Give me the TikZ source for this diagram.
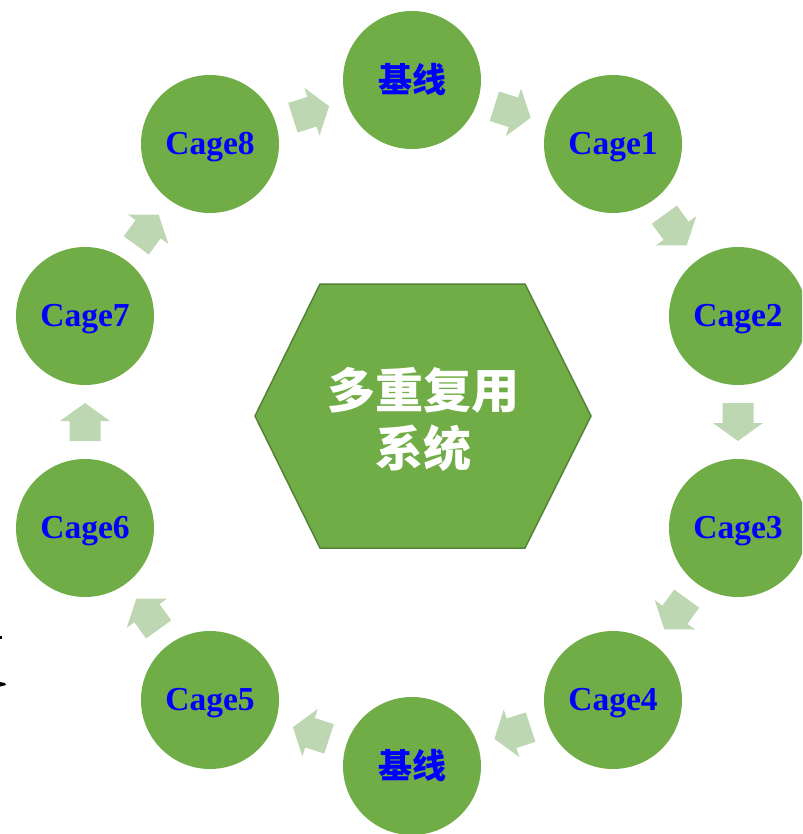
\documentclass[tikz,border=0pt]{standalone}
\usepackage{fontspec}
\setmainfont{Liberation Serif}
\newfontfamily\cjk{Noto Sans CJK SC}
\usetikzlibrary{calc}
\definecolor{cgreen}{HTML}{70AD47}
\definecolor{cedge}{HTML}{548235}
\definecolor{arrowfill}{HTML}{BDD7B2}
\definecolor{cblue}{HTML}{0000FF}
\newcommand\mydn[1]{\raisebox{-3pt}[\height][\depth]{#1}}
\tikzset{
  circ/.style={circle, fill=cgreen, minimum size=138pt, inner sep=0pt, text=cblue, font=\fontsize{33.5}{33.5}\selectfont\bfseries},
  cjkcirc/.style={circ, font=\cjk\bfseries\fontsize{34}{34}\selectfont},
  blk/.pic={\fill[arrowfill] (-19,-15.5) -- (1,-15.5) -- (1,-25) -- (19,0) -- (1,25) -- (1,15.5) -- (-19,15.5) -- cycle;}
}
\begin{document}
\begin{tikzpicture}[x=1pt,y=-1pt]
\useasboundingbox (0,0) rectangle (802,834);
\begin{scope}
\clip (0,0) rectangle (802,834);
\node[cjkcirc] (b1) at (412,80) {基线};
\node[circ] (c1) at (613,144) {\mydn{Cage1}};
\node[circ] (c2) at (738,316) {\mydn{Cage2}};
\node[circ] (c3) at (738,528) {\mydn{Cage3}};
\node[circ] (c4) at (613,700) {\mydn{Cage4}};
\node[cjkcirc] (b2) at (412,766) {基线};
\node[circ] (c5) at (210,700) {\mydn{Cage5}};
\node[circ] (c6) at (85,528) {\mydn{Cage6}};
\node[circ] (c7) at (85,316) {\mydn{Cage7}};
\node[circ] (c8) at (210,144) {\mydn{Cage8}};
\end{scope}
% hexagon
\fill[cgreen, draw=cedge, line width=1.5pt] (320,284) -- (525,284) -- (591,416) -- (525,548) -- (320,548) -- (255,416) -- cycle;
\node[text=white, align=center, font=\cjk\bfseries\fontsize{48}{58}\selectfont] (hex) at (423,419) {多重复用\\系统};
% block arrows
\foreach \a/\b in {b1/c1, c1/c2, c2/c3, c3/c4, c4/b2, b2/c5, c5/c6, c6/c7, c7/c8, c8/b1}{
  \path let \p1=($(\b.center)-(\a.center)$), \n1={atan2(\y1,\x1)} in
    ($(\a.center)!0.5!(\b.center)$) pic[rotate=\n1] {blk};
}
% small marks at left edge
\fill[black] (0,635.5) rectangle (1.5,639);
\fill[black] (0,682) -- (5,683) -- (6,685) -- (0,686.5) -- cycle;
\end{tikzpicture}
\end{document}
